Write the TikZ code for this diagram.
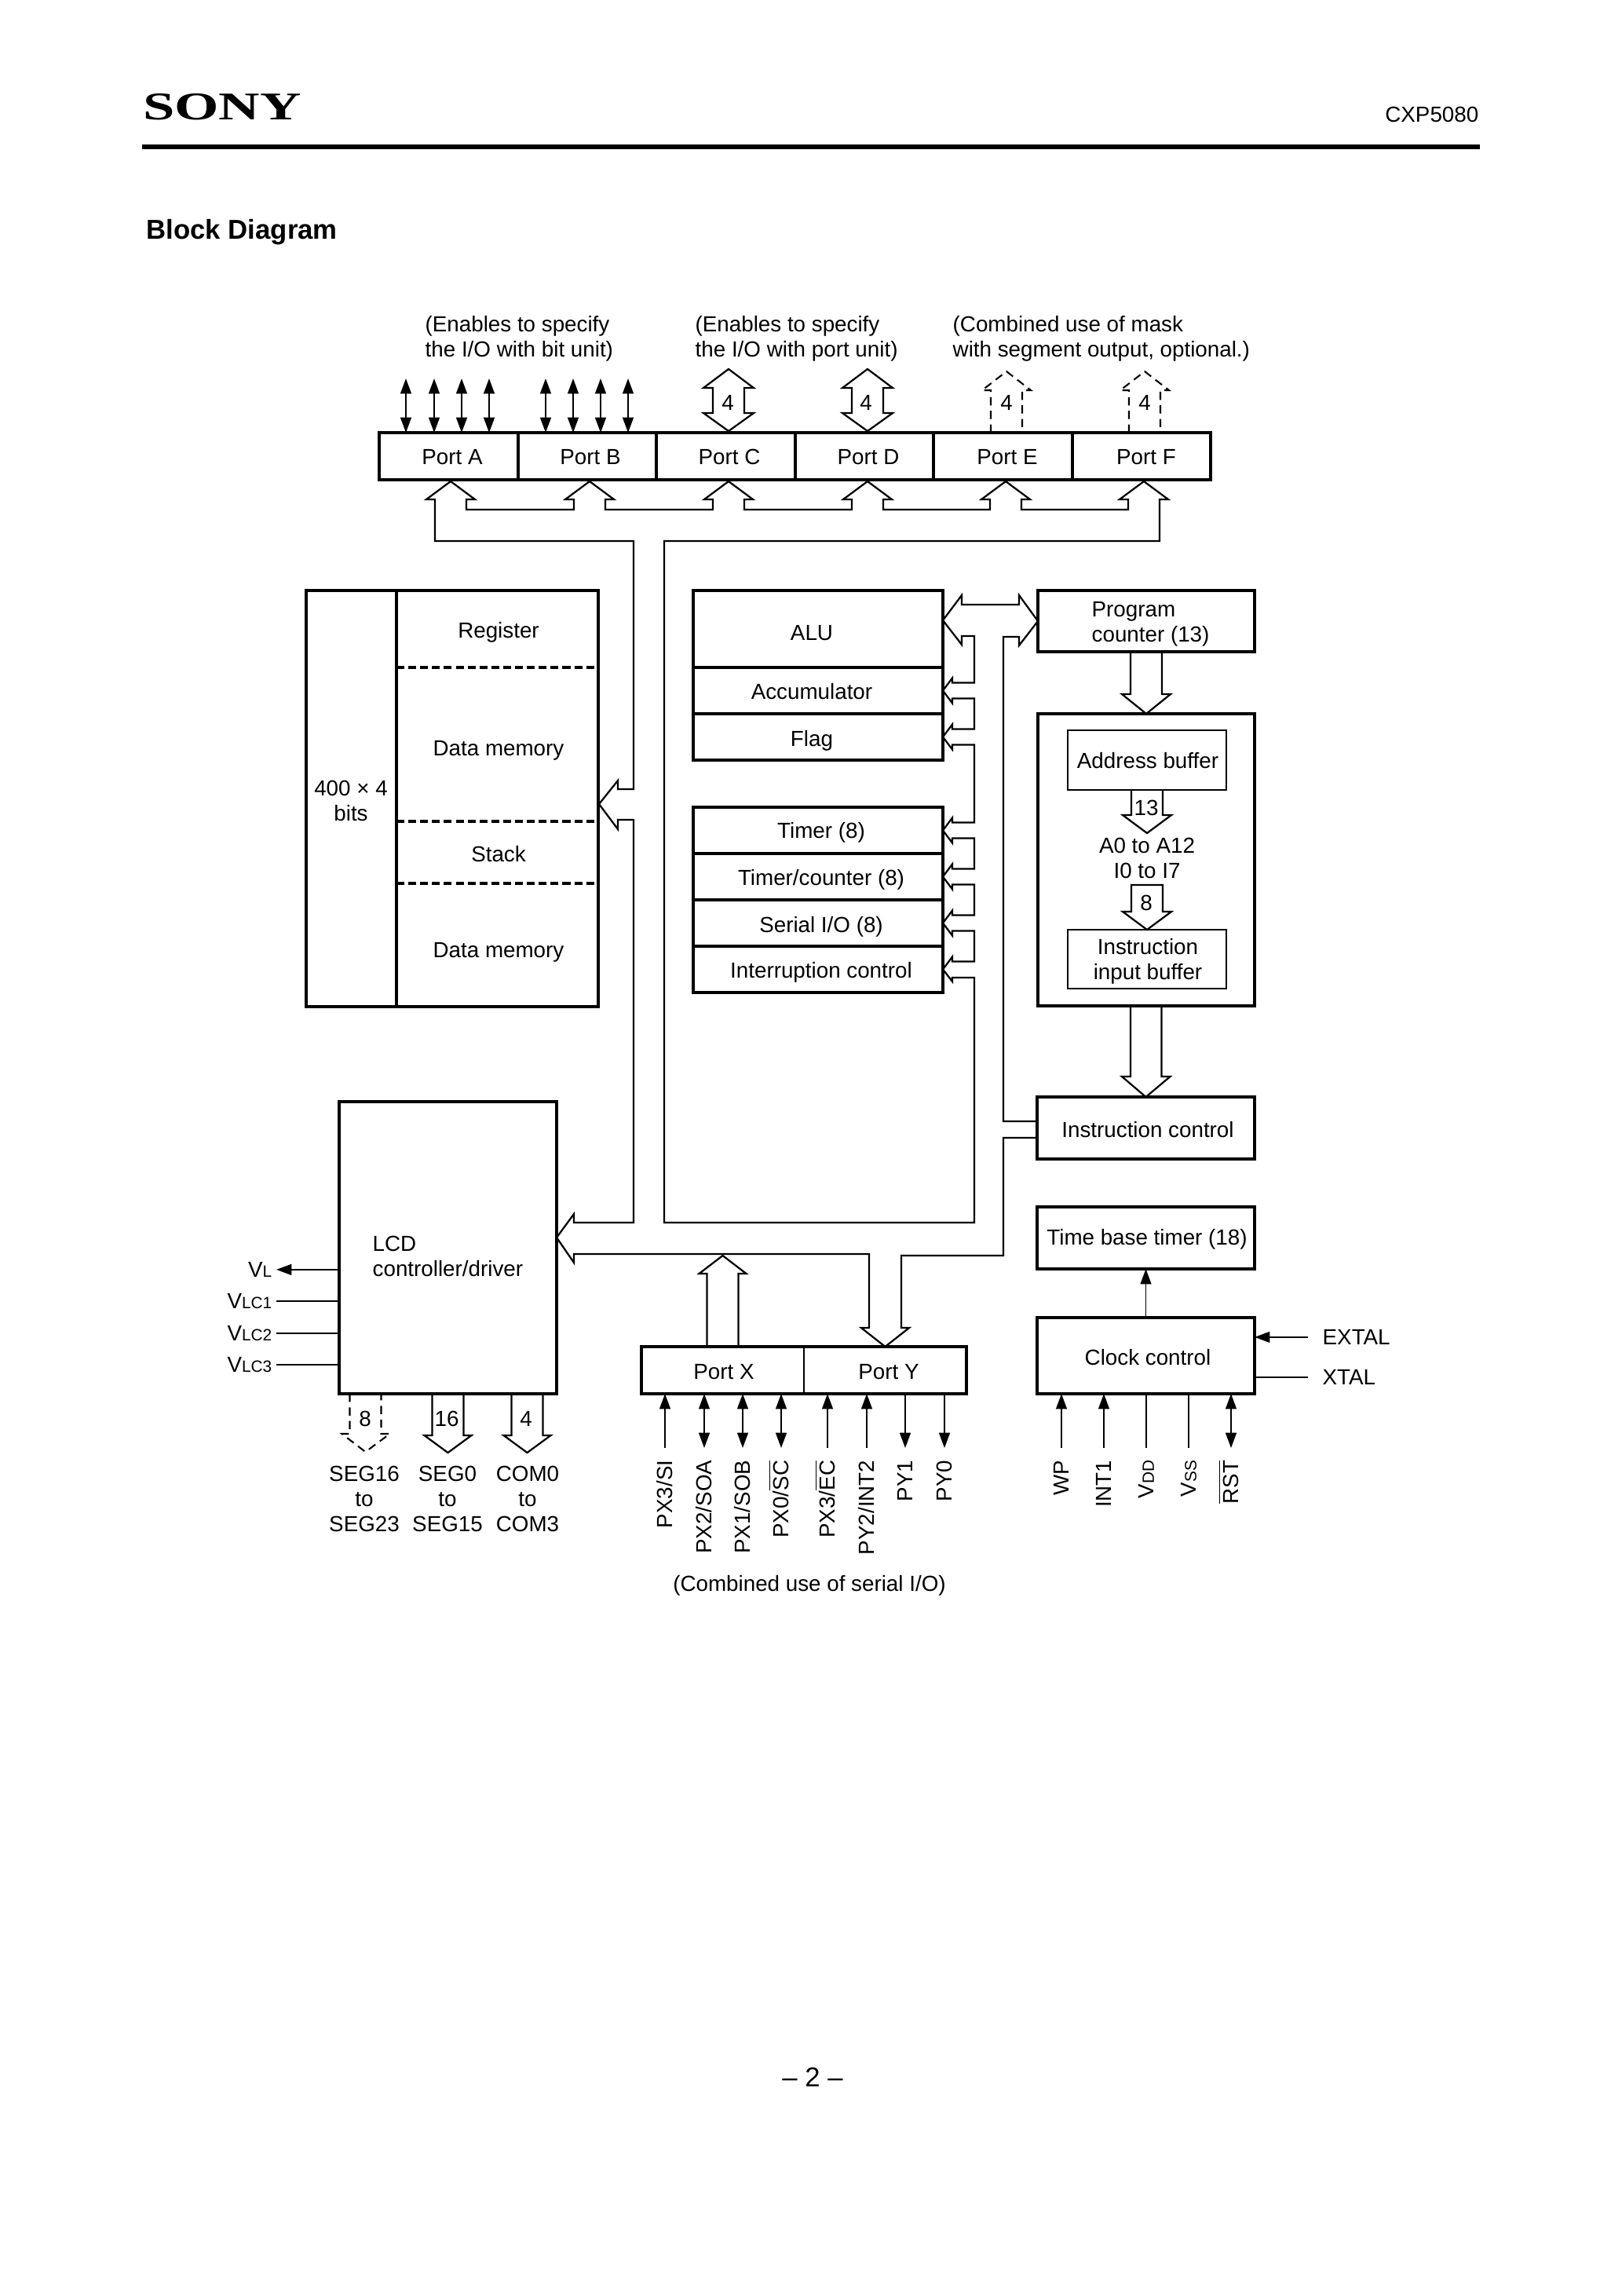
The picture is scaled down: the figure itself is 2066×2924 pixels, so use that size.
\documentclass[tikz,border=0pt]{standalone}
\usepackage{fontspec}
\usepackage{graphicx}
\setmainfont{Liberation Sans}
\newfontfamily\sonyfont{Liberation Serif}
\usetikzlibrary{arrows.meta}
\usetikzlibrary{fit}

\tikzset{
  box/.style={draw,line width=1.2pt,inner sep=0pt,outer sep=0pt},
  cell/.style={draw,line width=.9pt,inner sep=0pt,outer sep=0pt},
  hair/.style={draw,line width=.55pt,inner sep=0pt,outer sep=0pt},
  bare/.style={inner sep=0pt,outer sep=0pt},
  lbl/.style={inner sep=0pt,text height=5.7pt,text depth=0pt,yshift=-.25pt},
  mlbl/.style={inner sep=0pt,align=left},
  pinlbl/.style={inner sep=0pt,text height=5.7pt,text depth=0pt,rotate=90,anchor=east},
  bus/.style={line width=.65pt},
  busdash/.style={line width=.6pt,dash pattern=on 3pt off 2pt},
  pin/.style={line width=.55pt},
  memdash/.style={line width=1pt,dash pattern=on 2.9pt off 1.45pt},
}

\begin{document}
\begin{tikzpicture}[x=.288pt,y=-.288pt,font=\fontsize{8}{9.3}\selectfont,
    >={Triangle[length=5.6pt,width=4pt]}]
  \useasboundingbox (0,0) rectangle (2066,2924);

  \node (sony) [bare,anchor=west,text height=9.5pt,text depth=0pt] at (182,136)
    {\scalebox{1.45}[1]{\fontsize{14.4}{14.4}\sonyfont\bfseries SONY}};
  \node (cxp) [lbl,anchor=east] at (1884,145) {CXP5080};
  \draw[line width=1.45pt] (181,187) -- (1885,187);
  \node (title) [inner sep=0pt,anchor=west,text height=7.2pt,text depth=0pt,
    font=\fontsize{10}{12}\selectfont\bfseries] at (186,292) {Block Diagram};
  \node (pageno) [inner sep=0pt,text height=7.2pt,text depth=0pt,
    font=\fontsize{10}{12}\selectfont] at (1035,2645) {– 2 –};

  \node (notea) [mlbl,anchor=west] at (541,431) {(Enables to specify\\the I/O with bit unit)};
  \node (noteb) [mlbl,anchor=west] at (885,431) {(Enables to specify\\the I/O with port unit)};
  \node (notec) [mlbl,anchor=west] at (1213,431) {(Combined use of mask\\with segment output, optional.)};

  \node (porta) [cell,fit={(483,551) (660,611)}] {};
  \node (portb) [cell,fit={(660,551) (836,611)}] {};
  \node (portc) [cell,fit={(836,551) (1013,611)}] {};
  \node (portd) [cell,fit={(1013,551) (1189,611)}] {};
  \node (porte) [cell,fit={(1189,551) (1366,611)}] {};
  \node (portf) [cell,fit={(1366,551) (1542,611)}] {};
  \node (ports) [box,fit=(porta)(portf)] {};
  \node (portat) [lbl] at (576,581) {Port A};
  \node (portbt) [lbl] at (752,581) {Port B};
  \node (portct) [lbl] at (929,581) {Port C};
  \node (portdt) [lbl] at (1106,581) {Port D};
  \node (portet) [lbl] at (1283,581) {Port E};
  \node (portft) [lbl] at (1460,581) {Port F};

  \node (mem) [box,fit={(390,752) (762,1282)}] {};
  \node (memsize) [box,fit={(390,752) (505,1282)}] {};
  \node (memreg) [bare,fit={(505,752) (762,850)}] {};
  \node (memdat) [bare,fit={(505,850) (762,1046)}] {};
  \node (memstk) [bare,fit={(505,1046) (762,1125)}] {};
  \node (memdt2) [bare,fit={(505,1125) (762,1282)}] {};
  \draw[memdash] (memreg.south west) -- (memreg.south east);
  \draw[memdash] (memdat.south west) -- (memdat.south east);
  \draw[memdash] (memstk.south west) -- (memstk.south east);
  \node (memsizet) [mlbl,align=center] at (447,1020) {400 × 4\\bits};
  \node (memregt) [lbl] at (635,802) {Register};
  \node (memdatt) [lbl] at (635,952) {Data memory};
  \node (memstkt) [lbl] at (635,1087) {Stack};
  \node (memdt2t) [lbl] at (635,1209) {Data memory};

  \node (alu) [box,fit={(883,752) (1201,850)}] {};
  \node (acc) [box,fit={(883,850) (1201,909)}] {};
  \node (flag) [box,fit={(883,909) (1201,968)}] {};
  \node (alut) [lbl] at (1034,805) {ALU};
  \node (acct) [lbl] at (1034,880) {Accumulator};
  \node (flagt) [lbl] at (1034,940) {Flag};

  \node (timer) [box,fit={(883,1028) (1201,1087)}] {};
  \node (tcnt) [box,fit={(883,1087) (1201,1146)}] {};
  \node (serial) [box,fit={(883,1146) (1201,1205)}] {};
  \node (intr) [box,fit={(883,1205) (1201,1264)}] {};
  \node (timert) [lbl] at (1046,1057) {Timer (8)};
  \node (tcntt) [lbl] at (1046,1117) {Timer/counter (8)};
  \node (serialt) [lbl] at (1046,1177) {Serial I/O (8)};
  \node (intrt) [lbl] at (1046,1235) {Interruption control};

  \node (pc) [box,fit={(1322,752) (1598,830)}] {};
  \node (pct) [mlbl,anchor=west] at (1390,795) {Program\\counter (13)};
  \node (fetch) [box,fit={(1322,909) (1598,1281)}] {};
  \node (addrbuf) [hair,fit={(1360,930) (1562,1006)}] {};
  \node (addrbuft) [lbl] at (1462,968) {Address buffer};
  \node (inbuf) [hair,fit={(1360,1184) (1562,1259)}] {};
  \node (inbuft) [mlbl,align=center] at (1462,1224) {Instruction\\input buffer};
  \node (addrt) [mlbl,align=center] at (1461,1093) {A0 to A12\\I0 to I7};
  \node (inctrl) [box,fit={(1321,1397) (1598,1476)}] {};
  \node (inctrlt) [lbl] at (1462,1438) {Instruction control};
  \node (tbt) [box,fit={(1321,1537) (1598,1616)}] {};
  \node (tbtt) [lbl] at (1461,1575) {Time base timer (18)};
  \node (clock) [box,fit={(1321,1678) (1598,1775)}] {};
  \node (clockt) [lbl] at (1462,1728) {Clock control};

  \node (lcd) [box,fit={(432,1403) (709,1775)}] {};
  \node (lcdt) [mlbl,anchor=west] at (474,1600) {LCD\\controller/driver};

  \node (portx) [hair,fit={(817,1715) (1024,1775)}] {};
  \node (porty) [hair,fit={(1024,1715) (1231,1775)}] {};
  \node (portxy) [box,fit=(portx)(porty)] {};
  \node (portxt) [lbl] at (922,1746) {Port X};
  \node (portyt) [lbl] at (1132,1746) {Port Y};

  \path (porta.north) +(-54.5,-69) coordinate (pa1);
  \path (porta.north) +(-18.5,-69) coordinate (pa2);
  \path (porta.north) +(16.5,-69) coordinate (pa3);
  \path (porta.north) +(51.5,-69) coordinate (pa4);
  \path (portb.north) +(-53,-69) coordinate (pb1);
  \path (portb.north) +(-18,-69) coordinate (pb2);
  \path (portb.north) +(17,-69) coordinate (pb3);
  \path (portb.north) +(52,-69) coordinate (pb4);
  \draw[pin,<->] (pa1) -- (pa1 |- porta.north);
  \draw[pin,<->] (pa2) -- (pa2 |- porta.north);
  \draw[pin,<->] (pa3) -- (pa3 |- porta.north);
  \draw[pin,<->] (pa4) -- (pa4 |- porta.north);
  \draw[pin,<->] (pb1) -- (pb1 |- portb.north);
  \draw[pin,<->] (pb2) -- (pb2 |- portb.north);
  \draw[pin,<->] (pb3) -- (pb3 |- portb.north);
  \draw[pin,<->] (pb4) -- (pb4 |- portb.north);

  \path (portc.north) +(3.5,-2) coordinate (pcup);
  \path (portd.north) +(4,-2) coordinate (pdup);
  \path (porte.north) +(4.5,0) coordinate (peup);
  \path (portf.north) +(4,0) coordinate (pfup);
  \draw[bus] (pcup) -- ++(-32,-23) -- ++(12,0) -- ++(0,-32) -- ++(-12,0) -- ++(32,-24)
    -- ++(32,24) -- ++(-12,0) -- ++(0,32) -- ++(12,0) -- cycle;
  \draw[bus] (pdup) -- ++(-32,-23) -- ++(12,0) -- ++(0,-32) -- ++(-12,0) -- ++(32,-24)
    -- ++(32,24) -- ++(-12,0) -- ++(0,32) -- ++(12,0) -- cycle;
  \draw[busdash] (peup) ++(-20,0) -- ++(0,-54) -- ++(-11,0) -- ++(31,-24)
    -- ++(31,24) -- ++(-11,0) -- ++(0,54);
  \draw[busdash] (pfup) ++(-20,0) -- ++(0,-54) -- ++(-11,0) -- ++(31,-24)
    -- ++(31,24) -- ++(-11,0) -- ++(0,54);
  \node (pcn) [lbl] at (927,512) {4};
  \node (pdn) [lbl] at (1103,512) {4};
  \node (pen) [lbl] at (1282,512) {4};
  \node (pfn) [lbl] at (1458,512) {4};

  \path (porta.south) +(2.5,2) coordinate (busa);
  \path (portb.south) +(3,2) coordinate (busb);
  \path (portc.south) +(3.5,2) coordinate (busc);
  \path (portd.south) +(4,2) coordinate (busd);
  \path (porte.south) +(3.5,2) coordinate (buse);
  \path (portf.south) +(3,2) coordinate (busf);
  \path (lcd.east) +(0,-13) coordinate (lcdtip);
  \path (mem.east) +(1,7) coordinate (memtip);
  \path (alu.east) +(0,-11) coordinate (alutip);

  \draw[bus] (lcdtip) -- ++(22,-30) -- ++(0,11) -- ++(76,0) -- ++(0,-513) -- ++(-20,0)
    -- ++(0,12) -- (memtip) -- ++(24,-30) -- ++(0,11) -- ++(20,0) -- ++(0,-316)
    -- ++(-253,0) -- ++(0,-53) -- ++(-11,0) -- (busa)
    -- ++(31,23) -- ++(-11,0) -- ++(0,13) -- ++(137,0) -- ++(0,-13) -- ++(-11,0) -- (busb)
    -- ++(31,23) -- ++(-11,0) -- ++(0,13) -- ++(137,0) -- ++(0,-13) -- ++(-11,0) -- (busc)
    -- ++(31,23) -- ++(-11,0) -- ++(0,13) -- ++(137,0) -- ++(0,-13) -- ++(-11,0) -- (busd)
    -- ++(31,23) -- ++(-11,0) -- ++(0,13) -- ++(136,0) -- ++(0,-13) -- ++(-11,0) -- (buse)
    -- ++(31,23) -- ++(-11,0) -- ++(0,13) -- ++(136,0) -- ++(0,-13) -- ++(-11,0) -- (busf)
    -- ++(31,23) -- ++(-11,0) -- ++(0,53) -- ++(-631,0) -- ++(0,868) -- ++(395,0)
    -- ++(0,-312) -- ++(-28,0) -- ++(0,5) -- (intr.east)
    -- ++(12,-16) -- ++(0,6) -- ++(28,0) -- ++(0,-39) -- ++(-28,0) -- ++(0,6) -- (serial.east)
    -- ++(12,-16) -- ++(0,6) -- ++(28,0) -- ++(0,-39) -- ++(-28,0) -- ++(0,6) -- (tcnt.east)
    -- ++(12,-16) -- ++(0,6) -- ++(28,0) -- ++(0,-39) -- ++(-28,0) -- ++(0,6) -- (timer.east)
    -- ++(12,-16) -- ++(0,6) -- ++(28,0) -- ++(0,-99) -- ++(-28,0) -- ++(0,6) -- (flag.east)
    -- ++(12,-16) -- ++(0,6) -- ++(28,0) -- ++(0,-39) -- ++(-28,0) -- ++(0,6) -- (acc.east)
    -- ++(12,-16) -- ++(0,6) -- ++(28,0) -- ++(0,-59.5) -- ++(-16,0) -- ++(0,11) -- (alutip)
    -- ++(24,-32) -- ++(0,12) -- ++(73,0) -- ++(0,-12) -- (pc.west) -- ++(-24,31)
    -- ++(0,-11) -- ++(-20,0) -- ++(0,617) -- ++(43,0);
  \draw[bus] (lcdtip) -- ++(22,32) -- ++(0,-11) -- ++(376,0) -- ++(0,94) -- ++(-10,0)
    -- (porty.north) -- ++(30.5,-24) -- ++(-10,0) -- ++(0,-92) -- ++(130,0) -- ++(0,-150)
    -- ++(43,0);

  \draw[bus] (portx.north) ++(-20,0) -- ++(0,-93) -- ++(-10,0) -- ++(30,-23)
    -- ++(30,23) -- ++(-10,0) -- ++(0,93);

  \draw[bus] (pc.south) ++(-20,0) -- ++(0,54) -- ++(-11,0) -- (fetch.north) -- ++(31,-25)
    -- ++(-11,0) -- ++(0,-54);
  \draw[bus] (fetch.south) ++(-20,0) -- ++(0,90) -- ++(-11,0) -- (inctrl.north) -- ++(31,-26)
    -- ++(-11,0) -- ++(0,-90);
  \draw[bus] (addrbuf.south) ++(-20,0) -- ++(0,32) -- ++(-11,0) -- ++(31,23) -- ++(31,-23)
    -- ++(-11,0) -- ++(0,-32);
  \draw[bus] (inbuf.north) -- ++(-31,-23) -- ++(11,0) -- ++(0,-34) -- ++(40,0) -- ++(0,34)
    -- ++(11,0) -- cycle;
  \node (addrn) [lbl] at (1460,1028) {13};
  \node (inbufn) [lbl] at (1460,1149) {8};

  \path (lcd.south) +(-125,0) coordinate (lcds);
  \path (lcd.south) +(-20,0) coordinate (lcdm);
  \path (lcd.south) +(81,0) coordinate (lcdc);
  \draw[busdash] (lcds) -- ++(0,51) -- ++(-10,0) -- ++(30,23) -- ++(31,-23) -- ++(-11,0) -- ++(0,-51);
  \draw[bus] (lcdm) -- ++(0,53) -- ++(-10,0) -- ++(30,22) -- ++(30,-22) -- ++(-10,0) -- ++(0,-53);
  \draw[bus] (lcdc) -- ++(0,53) -- ++(-10,0) -- ++(30,22) -- ++(30,-22) -- ++(-10,0) -- ++(0,-53);
  \node (lcdsn) [lbl] at (465,1806) {8};
  \node (lcdmn) [lbl] at (569,1806) {16};
  \node (lcdcn) [lbl] at (670,1806) {4};
  \node (lcdst) [mlbl,align=center] at (464,1909) {SEG16\\to\\SEG23};
  \node (lcdmt) [mlbl,align=center] at (570,1909) {SEG0\\to\\SEG15};
  \node (lcdct) [mlbl,align=center] at (672,1909) {COM0\\to\\COM3};

  \node (vl) [lbl,anchor=east] at (347,1616) {V{\fontsize{6}{6}\selectfont L}};
  \node (vlc1) [lbl,anchor=east] at (347,1656) {V{\fontsize{6}{6}\selectfont LC1}};
  \node (vlc2) [lbl,anchor=east] at (347,1697) {V{\fontsize{6}{6}\selectfont LC2}};
  \node (vlc3) [lbl,anchor=east] at (347,1737) {V{\fontsize{6}{6}\selectfont LC3}};
  \draw[pin,<-] (vl.east) ++(5,0) -- (vl.east -| lcd.west);
  \draw[pin] (vlc1.east) ++(5,0) -- (vlc1.east -| lcd.west);
  \draw[pin] (vlc2.east) ++(5,0) -- (vlc2.east -| lcd.west);
  \draw[pin] (vlc3.east) ++(5,0) -- (vlc3.east -| lcd.west);

  \node (pxsi) [pinlbl] at (847,1859) {PX3/SI};
  \node (pxsoa) [pinlbl] at (897,1859) {PX2/SOA};
  \node (pxsob) [pinlbl] at (946,1859) {PX1/SOB};
  \node (pxsc) [pinlbl] at (995,1859) {PX0/$\overline{\mbox{SC}}$};
  \node (pxec) [pinlbl] at (1054,1859) {PX3/$\overline{\mbox{EC}}$};
  \node (pyint) [pinlbl] at (1104,1859) {PY2/INT2};
  \node (pyone) [pinlbl] at (1153,1859) {PY1};
  \node (pyzero) [pinlbl] at (1203,1859) {PY0};
  \draw[pin,->] (pxsi.east) ++(0,-15) -- (pxsi.east |- portxy.south);
  \draw[pin,<->] (pxsoa.east) ++(0,-15) -- (pxsoa.east |- portxy.south);
  \draw[pin,<->] (pxsob.east) ++(0,-15) -- (pxsob.east |- portxy.south);
  \draw[pin,<->] (pxsc.east) ++(0,-15) -- (pxsc.east |- portxy.south);
  \draw[pin,->] (pxec.east) ++(0,-15) -- (pxec.east |- portxy.south);
  \draw[pin,->] (pyint.east) ++(0,-15) -- (pyint.east |- portxy.south);
  \draw[pin,<-] (pyone.east) ++(0,-15) -- (pyone.east |- portxy.south);
  \draw[pin,<-] (pyzero.east) ++(0,-15) -- (pyzero.east |- portxy.south);
  \node (serialuse) [lbl] at (1031,2016) {(Combined use of serial I/O)};

  \node (wp) [pinlbl] at (1352,1859) {WP};
  \node (intone) [pinlbl] at (1406,1859) {INT1};
  \node (vdd) [pinlbl] at (1460,1859) {V{\fontsize{6}{6}\selectfont DD}};
  \node (vss) [pinlbl] at (1514,1859) {V{\fontsize{6}{6}\selectfont SS}};
  \node (rst) [pinlbl] at (1568,1859) {$\overline{\mbox{RST}}$};
  \draw[pin,->] (wp.east) ++(0,-15) -- (wp.east |- clock.south);
  \draw[pin,->] (intone.east) ++(0,-15) -- (intone.east |- clock.south);
  \draw[pin] (vdd.east) ++(0,-15) -- (vdd.east |- clock.south);
  \draw[pin] (vss.east) ++(0,-15) -- (vss.east |- clock.south);
  \draw[pin,<->] (rst.east) ++(0,-15) -- (rst.east |- clock.south);

  \node (extal) [lbl,anchor=west] at (1684,1702) {EXTAL};
  \node (xtal) [lbl,anchor=west] at (1684,1753) {XTAL};
  \draw[pin,->] (extal.west) ++(-18,0) -- (extal.west -| clock.east);
  \draw[pin] (xtal.west) ++(-18,0) -- (xtal.west -| clock.east);
  \draw[pin,->] (clock.north) -- (tbt.south);
\end{tikzpicture}
\end{document}
